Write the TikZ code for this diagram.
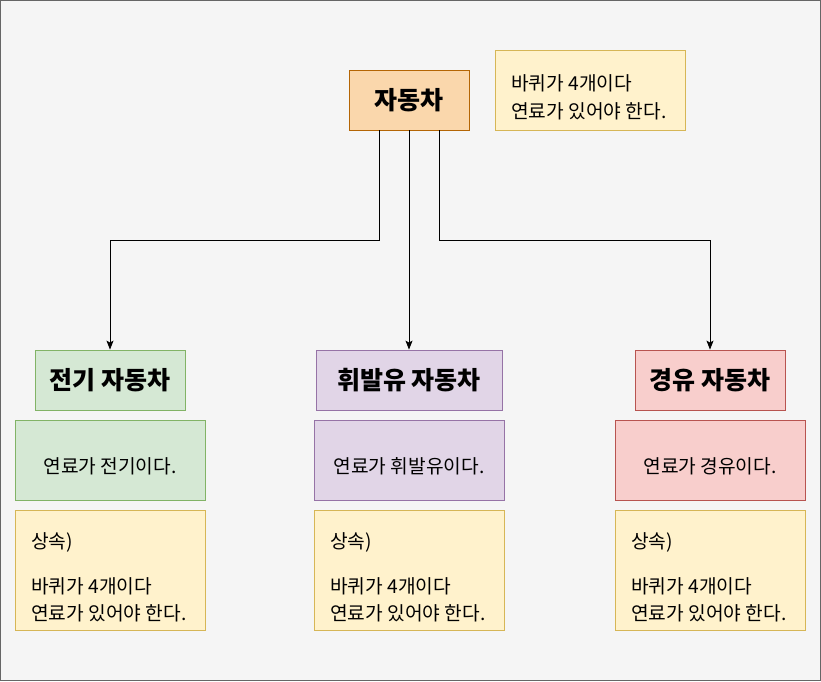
\documentclass[tikz,border=0pt]{standalone}
\usepackage{fontspec}
\setmainfont{Noto Sans CJK KR}
\usetikzlibrary{arrows.meta}
\definecolor{bgfill}{HTML}{F5F5F5}
\definecolor{bgline}{HTML}{666666}
\definecolor{orfill}{HTML}{FAD7AC}
\definecolor{orline}{HTML}{B46504}
\definecolor{yefill}{HTML}{FFF2CC}
\definecolor{yeline}{HTML}{D6B656}
\definecolor{grfill}{HTML}{D5E8D4}
\definecolor{grline}{HTML}{82B366}
\definecolor{pufill}{HTML}{E1D5E7}
\definecolor{puline}{HTML}{9673A6}
\definecolor{rdfill}{HTML}{F8CECC}
\definecolor{rdline}{HTML}{B85450}
\begin{document}
\begin{tikzpicture}[x=1pt,y=-1pt,
  box/.style={draw, line width=0.8pt, rectangle, inner sep=0pt},
  titletext/.style={font=\fontsize{25}{28}\selectfont\bfseries, anchor=base, inner sep=0pt},
  bodytext/.style={font=\fontsize{19.2}{27}\selectfont, inner sep=0pt},
  conn/.style={draw=black, line width=0.9pt, -{Stealth[length=9pt,width=7pt,inset=2pt]}}]
\useasboundingbox (0,0) rectangle (821,681);
\node[box, draw=bgline, fill=bgfill, minimum width=820pt, minimum height=680pt] (bg) at (410.5,340.5) {};

% top
\node[box, draw=orline, fill=orfill, minimum width=120pt, minimum height=60pt] (car) at (409,100) {};
\node[titletext] (cart) at (409,109.5) {자동차};
\node[box, draw=yeline, fill=yefill, minimum width=190pt, minimum height=80pt] (note) at (590,90) {};
\node[bodytext, anchor=base west] (notea) at (511,90) {바퀴가 4개이다};
\node[bodytext, anchor=base west] (noteb) at (511,118) {연료가 있어야 한다.};

% titles
\node[box, draw=grline, fill=grfill, minimum width=150pt, minimum height=60pt] (ev) at (110,380) {};
\node[titletext] (evt) at (110,389.5) {전기 자동차};
\node[box, draw=puline, fill=pufill, minimum width=186pt, minimum height=60pt] (hy) at (409,380) {};
\node[titletext] (hyt) at (409,389.5) {휘발유 자동차};
\node[box, draw=rdline, fill=rdfill, minimum width=150pt, minimum height=60pt] (gs) at (710,380) {};
\node[titletext] (gst) at (710,389.5) {경유 자동차};

% descriptions
\node[box, draw=grline, fill=grfill, minimum width=190pt, minimum height=80pt] (evd) at (110,460) {};
\node[bodytext, anchor=base] (evdt) at (110,473.5) {연료가 전기이다.};
\node[box, draw=puline, fill=pufill, minimum width=190pt, minimum height=80pt] (hyd) at (409,460) {};
\node[bodytext, anchor=base] (hydt) at (409,473.5) {연료가 휘발유이다.};
\node[box, draw=rdline, fill=rdfill, minimum width=190pt, minimum height=80pt] (gsd) at (710,460) {};
\node[bodytext, anchor=base] (gsdt) at (710,473.5) {연료가 경유이다.};

% inheritance notes
\foreach \cx/\nm in {110/ev,409/hy,710/gs}{
  \node[box, draw=yeline, fill=yefill, minimum width=190pt, minimum height=120pt] (\nm i) at (\cx,570) {};
  \node[bodytext, anchor=base west] (\nm ia) at (\cx-79,548) {상속)};
  \node[bodytext, anchor=base west] (\nm ib) at (\cx-79,593) {바퀴가 4개이다};
  \node[bodytext, anchor=base west] (\nm ic) at (\cx-79,620) {연료가 있어야 한다.};
}

% connectors
\draw[conn] ([xshift=-30pt]car.south) -- ++(0,110) -| (ev.north);
\draw[conn] (car.south) -- (hy.north);
\draw[conn] ([xshift=30pt]car.south) -- ++(0,110) -| (gs.north);
\end{tikzpicture}
\end{document}
